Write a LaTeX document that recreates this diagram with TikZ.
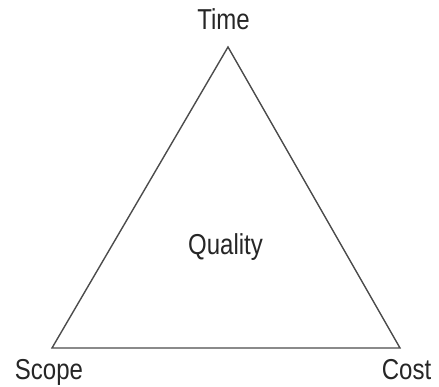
\documentclass[tikz,border=0pt]{standalone}
\usepackage{fontspec}
\setmainfont{Liberation Sans}
\begin{document}
\begin{tikzpicture}[x=1pt,y=1pt,
  lbl/.style={inner sep=0pt, anchor=base, text=black!85, font=\fontsize{24}{24}\selectfont},
  edge/.style={draw=black!70, line width=1.4pt}]
\useasboundingbox[fill=white] (0,0) rectangle (439,387);
\coordinate (T) at (228,340);
\coordinate (S) at (52,39);
\coordinate (C) at (400,39);
\draw[edge, line join=miter] (T) -- (S) -- (C) -- cycle;
\node[lbl] (time) at (223.5,357) {\scalebox{1}[1.2]{Time}};
\node[lbl] (quality) at (225.5,132) {\scalebox{1}[1.2]{Quality}};
\node[lbl] (scope) at (49,7) {\scalebox{1}[1.2]{Scope}};
\node[lbl] (cost) at (406.5,7) {\scalebox{1}[1.2]{Cost}};
\end{tikzpicture}
\end{document}
